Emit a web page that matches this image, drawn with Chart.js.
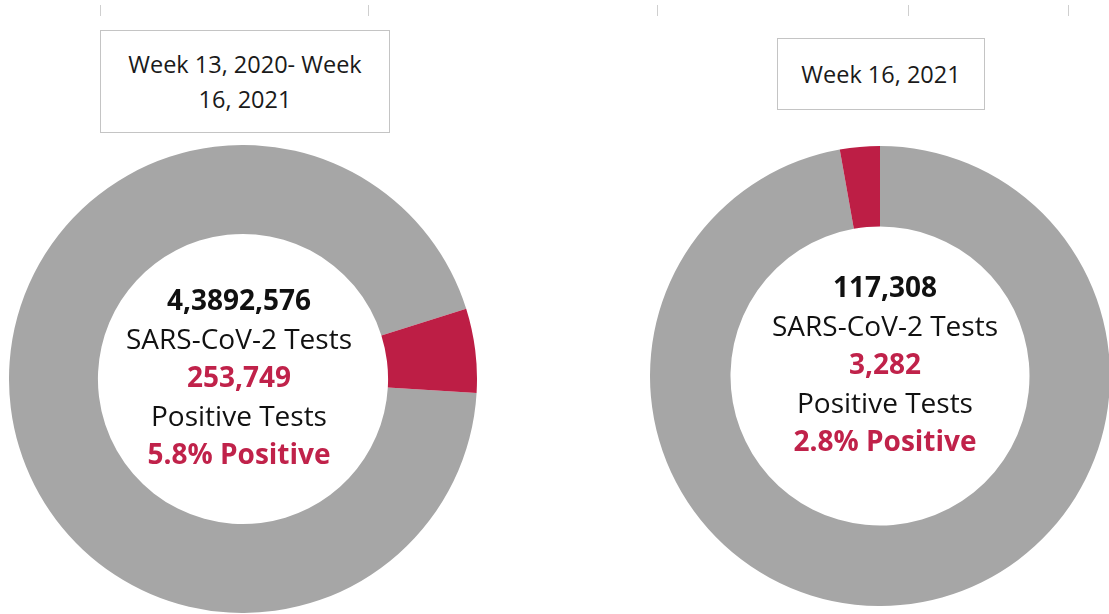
<!DOCTYPE html>
<html>
<head>
<meta charset="utf-8">
<script src="https://cdn.jsdelivr.net/npm/chart.js@4.4.0/dist/chart.umd.min.js"></script>
<style>
  body { margin: 0; background: #fff; width: 1109px; height: 614px; overflow: hidden; position: relative;
         font-family: "Open Sans", Lato, sans-serif; }
  .tick { position: absolute; top: 5px; width: 1px; height: 11px; background: #cfcfcf; }
  .box { position: absolute; border: 1.5px solid #c4c4c4; box-sizing: border-box; display: flex;
         align-items: center; justify-content: center; text-align: center; color: #1a1a1a;
         font-size: 23.5px; line-height: 35px; }
  .donut { position: absolute; }
  .center { position: absolute; text-align: center; font-size: 28px; line-height: 38.5px; color: #111; width: 320px; }
  .center .b { font-weight: bold; }
  .center .r { color: #c0224a; font-weight: bold; }
</style>
</head>
<body>
<div class="tick" style="left:100px"></div>
<div class="tick" style="left:368px"></div>
<div class="tick" style="left:657px"></div>
<div class="tick" style="left:908px"></div>
<div class="tick" style="left:1068px"></div>

<div class="box" id="box0" style="left:100px; top:30px; width:290px; height:103px;"></div>
<div class="box" id="box1" style="left:777px; top:38px; width:208px; height:72px;"></div>

<div class="donut" style="left:9px; top:145px; width:468px; height:468px;"><canvas id="c0"></canvas></div>
<div class="donut" style="left:650px; top:146px; width:460px; height:460px;"><canvas id="c1"></canvas></div>

<div class="center" id="t0" style="left:79px; top:280px;"></div>
<div class="center" id="t1" style="left:725px; top:267px;"></div>

<script>
// Period labels shown in the boxes above each ring
const periodLines = [["Week 13, 2020- Week", "16, 2021"], ["Week 16, 2021"]];
// Total tests as printed on the chart
const totalLabels = ["4,3892,576", "117,308"];
const positiveTests = [253749, 3282];
const positivePct = [5.8, 2.8];
// Angle of the first (negative) slice, degrees
const firstSliceAngle = [93.4, 0];
const cutouts = ["62%", "65%"];

const grey = "#a6a6a6";
const red = "#bd1e45";

function fmt(n) {
    return n.toLocaleString("en-US");
}

for (let i = 0; i < 2; i++) {
    document.getElementById("box" + i).innerHTML = periodLines[i].join("<br>");
    document.getElementById("t" + i).innerHTML =
        '<div class="b">' + totalLabels[i] + '</div>' +
        '<div>SARS-CoV-2 Tests</div>' +
        '<div class="r">' + fmt(positiveTests[i]) + '</div>' +
        '<div>Positive Tests</div>' +
        '<div class="r">' + positivePct[i] + '% Positive</div>';

    new Chart(document.getElementById("c" + i), {
        type: "doughnut",
        data: {
            labels: ["Negative", "Positive"],
            datasets: [{
                data: [100 - positivePct[i], positivePct[i]],
                backgroundColor: [grey, red],
                borderWidth: 0
            }]
        },
        options: {
            responsive: true,
            maintainAspectRatio: false,
            animation: false,
            cutout: cutouts[i],
            rotation: firstSliceAngle[i],
            layout: { padding: 0 },
            plugins: { legend: { display: false }, tooltip: { enabled: false } }
        }
    });
}
</script>
</body>
</html>
